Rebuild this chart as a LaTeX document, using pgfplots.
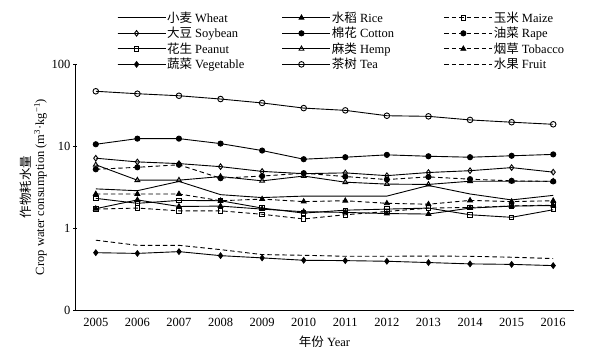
\documentclass[border=0pt]{standalone}
\usepackage{pgfplots}
\pgfplotsset{compat=1.18}
\usetikzlibrary{calc}
\usepackage{fontspec}
\setmainfont{Liberation Serif}
\newfontfamily\cjk{Noto Sans CJK SC}
\begin{document}
\begin{tikzpicture}
\begin{axis}[
  name=ax,
  scale only axis, width=499pt, height=246pt,
  ymode=log, log basis y=10,
  ymin=0.1, ymax=100,
  ytick={0.1,1,10,100}, yticklabels={0,1,10,100},
  xmin=2004.5, xmax=2016.5,
  xtick={2005,...,2016},
  xticklabels={2005,2006,2007,2008,2009,2010,2011,2012,2013,2014,2015,2016},
  minor xtick={2005.5,2006.5,...,2016.5},
  xtick style={draw=none},
  minor tick length=4pt,
  major tick length=4pt,
  tick align=inside,
  axis x line=bottom, axis y line=left,
  axis line style={-, line width=0.8pt},
  every tick/.style={black, line width=0.8pt},
  tick label style={font=\fontsize{12.5}{14}\selectfont},
  yticklabel style={xshift=1pt},
  xticklabel style={yshift=-3pt},
  /pgf/number format/assume math mode=true,
  xlabel={{\cjk 年份} Year},
  xlabel style={font=\fontsize{12.5}{14}\selectfont, yshift=-2pt},
  ylabel={{\cjk 作物耗水量}\\Crop water consumption (m\textsuperscript{3}·kg\textsuperscript{−1})},
  ylabel style={font=\fontsize{12.5}{14}\selectfont, align=center, yshift=-2pt},
  legend columns=3,
  legend style={draw=none, fill=none, at={(0.084,1.217)}, anchor=north west,
    font=\fontsize{12.5}{14}\selectfont, inner sep=0pt, row sep=1.5pt,
    nodes={inner sep=1pt},
    /tikz/every even column/.append style={column sep=0pt}},
  legend cell align=left,
  legend image code/.code={\path (0pt,0pt) -- (48pt,0pt); \draw[#1, mark repeat=2, mark phase=2] plot coordinates {(0pt,0pt) (19pt,0pt) (38pt,0pt)};},
  every axis plot/.append style={black, line width=0.9pt},
  dsh/.style={dash pattern=on 4.5pt off 3pt},
  clip=false,
]
% Wheat
\addplot[no markers] coordinates {(2005,3.0)(2006,2.85)(2007,3.7)(2008,2.55)(2009,2.35)(2010,2.45)(2011,2.45)(2012,2.45)(2013,3.3)(2014,2.6)(2015,2.2)(2016,2.5)};
\addlegendentry{\makebox[114pt][l]{{\cjk 小麦} Wheat}}
% Rice
\addplot[mark=triangle*, mark size=2.8pt] coordinates {(2005,1.72)(2006,2.2)(2007,1.83)(2008,1.85)(2009,1.7)(2010,1.58)(2011,1.55)(2012,1.5)(2013,1.48)(2014,1.75)(2015,1.85)(2016,1.88)};
\addlegendentry{\makebox[111pt][l]{{\cjk 水稻} Rice}}
% Maize
\addplot[dsh, mark=square, mark size=2.2pt, mark options={solid, fill=white}] coordinates {(2005,1.7)(2006,1.75)(2007,1.62)(2008,1.62)(2009,1.47)(2010,1.29)(2011,1.45)(2012,1.59)(2013,1.75)(2014,1.78)(2015,1.86)(2016,1.9)};
\addlegendentry{{\cjk 玉米} Maize}
% Soybean
\addplot[mark=diamond, mark size=2.8pt, mark options={fill=white}] coordinates {(2005,7.1)(2006,6.4)(2007,6.1)(2008,5.6)(2009,4.9)(2010,4.6)(2011,4.7)(2012,4.35)(2013,4.75)(2014,5.0)(2015,5.45)(2016,4.8)};
\addlegendentry{\makebox[114pt][l]{{\cjk 大豆} Soybean}}
% Cotton
\addplot[mark=*, mark size=2.6pt] coordinates {(2005,10.5)(2006,12.3)(2007,12.3)(2008,10.7)(2009,8.8)(2010,6.9)(2011,7.3)(2012,7.8)(2013,7.5)(2014,7.3)(2015,7.6)(2016,7.9)};
\addlegendentry{\makebox[111pt][l]{{\cjk 棉花} Cotton}}
% Rape
\addplot[dsh, mark=*, mark size=2.6pt, mark options={solid}] coordinates {(2005,5.2)(2006,5.5)(2007,5.9)(2008,4.05)(2009,4.3)(2010,4.66)(2011,4.24)(2012,3.9)(2013,4.2)(2014,3.94)(2015,3.76)(2016,3.7)};
\addlegendentry{{\cjk 油菜} Rape}
% Peanut
\addplot[mark=square, mark size=2.2pt, mark options={fill=white}] coordinates {(2005,2.3)(2006,2.0)(2007,2.17)(2008,2.15)(2009,1.75)(2010,1.52)(2011,1.65)(2012,1.7)(2013,1.75)(2014,1.45)(2015,1.35)(2016,1.67)};
\addlegendentry{\makebox[114pt][l]{{\cjk 花生} Peanut}}
% Hemp
\addplot[mark=triangle, mark size=2.8pt, mark options={fill=white}] coordinates {(2005,5.9)(2006,3.83)(2007,3.83)(2008,4.24)(2009,3.76)(2010,4.3)(2011,3.62)(2012,3.43)(2013,3.4)(2014,3.72)(2015,3.72)(2016,3.72)};
\addlegendentry{\makebox[111pt][l]{{\cjk 麻类} Hemp}}
% Tobacco
\addplot[dsh, mark=triangle*, mark size=2.8pt, mark options={solid}] coordinates {(2005,2.6)(2006,2.6)(2007,2.6)(2008,2.15)(2009,2.25)(2010,2.1)(2011,2.15)(2012,2.0)(2013,1.95)(2014,2.17)(2015,2.1)(2016,2.15)};
\addlegendentry{{\cjk 烟草} Tobacco}
% Vegetable
\addplot[mark=diamond*, mark size=2.8pt] coordinates {(2005,0.50)(2006,0.49)(2007,0.515)(2008,0.46)(2009,0.432)(2010,0.404)(2011,0.40)(2012,0.393)(2013,0.379)(2014,0.365)(2015,0.36)(2016,0.348)};
\addlegendentry{\makebox[114pt][l]{{\cjk 蔬菜} Vegetable}}
% Tea
\addplot[mark=o, mark size=2.8pt, mark options={fill=white}] coordinates {(2005,46.5)(2006,43.4)(2007,41)(2008,37.4)(2009,33.5)(2010,29)(2011,27.2)(2012,23.4)(2013,23)(2014,20.8)(2015,19.5)(2016,18.4)};
\addlegendentry{\makebox[111pt][l]{{\cjk 茶树} Tea}}
% Fruit
\addplot[dsh, no markers] coordinates {(2005,0.71)(2006,0.615)(2007,0.615)(2008,0.545)(2009,0.474)(2010,0.465)(2011,0.452)(2012,0.452)(2013,0.455)(2014,0.452)(2015,0.44)(2016,0.424)};
\addlegendentry{{\cjk 水果} Fruit}
\end{axis}
\pgfresetboundingbox
\path[use as bounding box] ($(ax.south west)+(-75pt,-40pt)$) rectangle ($(ax.north east)+(20pt,64pt)$);
\end{tikzpicture}
\end{document}
